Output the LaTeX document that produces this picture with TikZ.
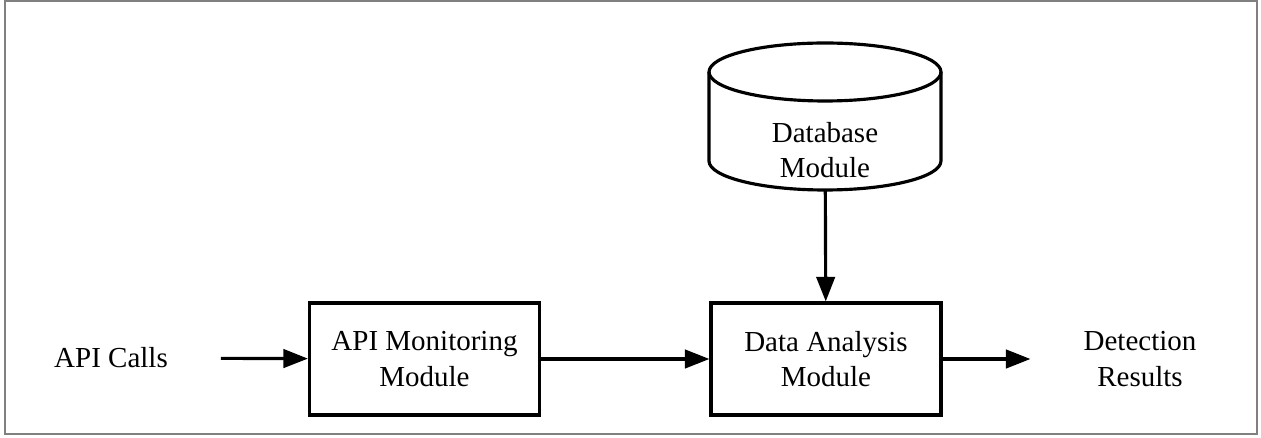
\documentclass[tikz,border=0pt]{standalone}
\usepackage{fontspec}
\setmainfont{Liberation Serif}
\usetikzlibrary{arrows.meta}

\begin{document}
\begin{tikzpicture}[x=0.02cm,y=-0.02cm,
        every node/.style={font=\fontsize{16.5}{20}\selectfont,align=center},
        module/.style={draw,line width=1.8pt,minimum width=4.6cm,minimum height=2.24cm},
        flow/.style={line width=1.8pt,-{Triangle[length=14pt,width=10.5pt]}}]
        \useasboundingbox (0,0) rectangle (1261,438);
        \draw[gray,line width=1pt] (5,1) rectangle (1257,434);

        \draw[line width=1.8pt] (709,72) -- (709,161) arc (180:360:2.32cm and 0.58cm) -- (941,72);
        \draw[line width=1.8pt] (825,72) ellipse (2.32cm and 0.58cm);
        \node[minimum width=4.64cm,minimum height=2.94cm] (db) at (825,116.5) {};
        \node (dbtext) at (825,150) {Database\\Module};

        \node (calls) at (111,358) {API Calls};
        \node[module] (monitor) at (424.5,359) {API Monitoring\\Module};
        \node[module] (analysis) at (826,359) {Data Analysis\\Module};
        \node (results) at (1140,359) {Detection\\Results};

        \draw[flow,shorten <=0.94cm] (calls) -- (monitor);
        \draw[flow] (monitor) -- (analysis);
        \draw[flow,shorten >=0.94cm] (analysis) -- (results);
        \draw[flow] (db) -- (analysis);
      \end{tikzpicture}
\end{document}
